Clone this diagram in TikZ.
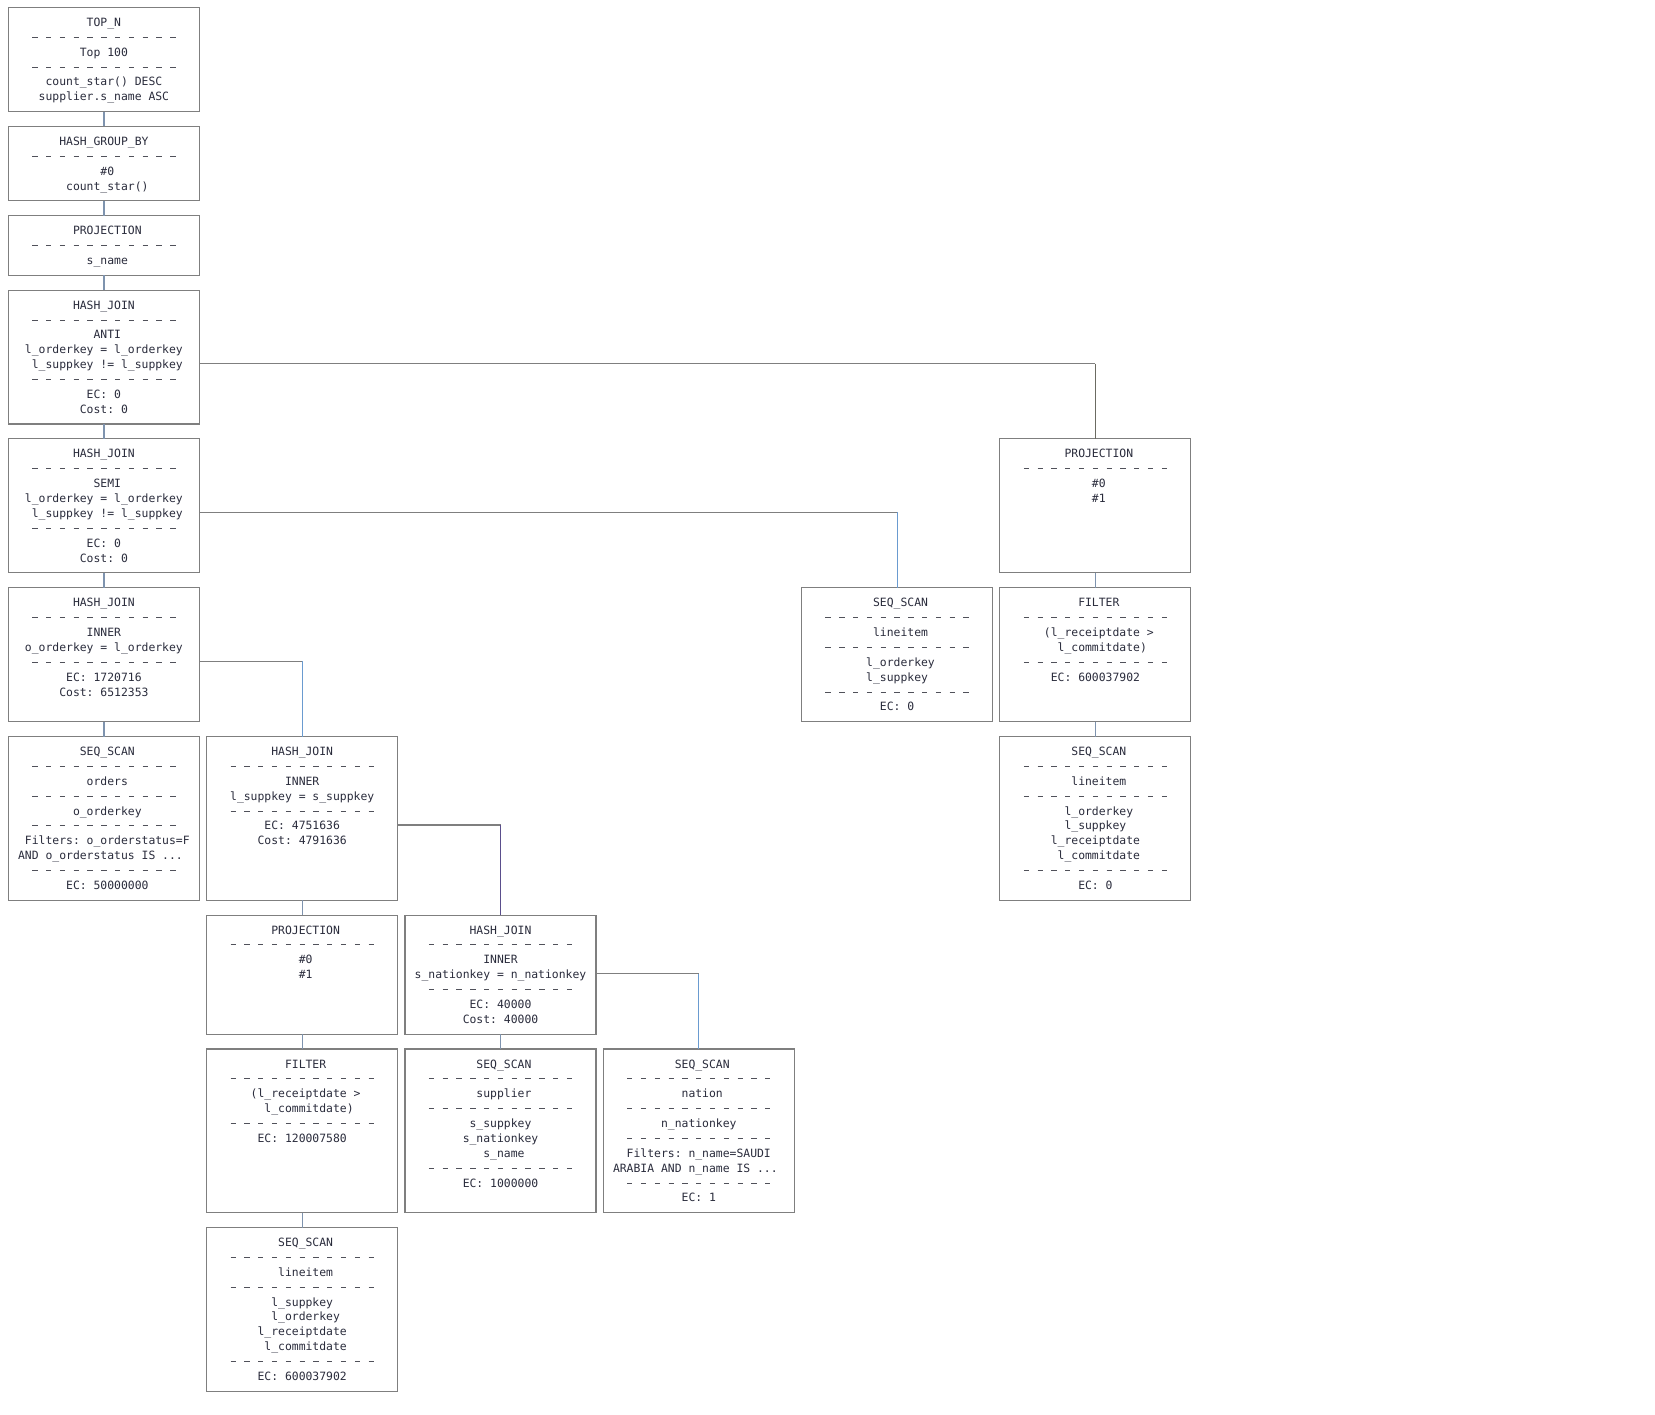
\documentclass[tikz,border=0pt]{standalone}
\usepackage{fontspec}
\setmonofont{DejaVu Sans Mono}
\definecolor{planline}{HTML}{7F7F7F}
\definecolor{planink}{HTML}{2A2C3C}
\definecolor{plandash}{HTML}{50515A}
\definecolor{planblue}{HTML}{6A9BD0}
\definecolor{planpurple}{HTML}{5A4E8C}
\definecolor{planstack}{HTML}{7E93AE}
\definecolor{plandark}{HTML}{6B6B62}

\newcommand\pad{\phantom{x}}
\newcommand\etc{.{}.{}.}
\def\sepmark{-}

% one operator box: name, centre x, top (rows), height (rows), lines
\newcommand\opbox[5]{%
  \node[opbox,minimum height=#4*14.88pt,anchor=north] (#1) at (#2,7.4+14.88*#3) {};
  \foreach \ltxt [count=\rowno from 0] in {#5}{%
    \ifx\ltxt\sepmark
      \draw[sepline] ([xshift=-71.65pt,yshift={-15pt-\rowno*14.88pt}]#1.north) -- ++(143.3,0);
    \else
      \node[optxt] at ([yshift={-19pt-\rowno*14.88pt}]#1.north) {\ltxt};
    \fi}}

\begin{document}
\begin{tikzpicture}[x=1pt,y=-1pt,
    opbox/.style={draw=planline,line width=1.1pt,minimum width=191pt,inner sep=0pt,outer sep=0pt},
    optxt/.style={font=\ttfamily\fontsize{11.4}{13}\selectfont,text=planink,inner sep=0pt,anchor=base},
    sepline/.style={draw=plandash,line width=0.95pt,dash pattern=on 5.3pt off 8.5pt},
    link/.style={draw=planline,line width=1.2pt},
    stack/.style={draw=planstack,line width=1.2pt}]
    \fill[white] (0,0) rectangle (1655,1414);

    \opbox{topn}{103.9}{0}{7}{TOP\_N,-,Top 100,-,count\_star() DESC,supplier.s\_name ASC}
    \opbox{groupby}{103.9}{8}{5}{HASH\_GROUP\_BY,-,\pad\#0,\pad count\_star()}
    \opbox{proj0}{103.9}{14}{4}{\pad PROJECTION,-,\pad s\_name}
    \opbox{anti}{103.9}{19}{9}{HASH\_JOIN,-,\pad ANTI,l\_orderkey = l\_orderkey,%
        \pad l\_suppkey != l\_suppkey,-,EC: 0,Cost: 0}
    \opbox{semi}{103.9}{29}{9}{HASH\_JOIN,-,\pad SEMI,l\_orderkey = l\_orderkey,%
        \pad l\_suppkey != l\_suppkey,-,EC: 0,Cost: 0}
    \opbox{rproj}{1095.4}{29}{9}{\pad PROJECTION,-,\pad\#0,\pad\#1}
    \opbox{inner}{103.9}{39}{9}{HASH\_JOIN,-,INNER,o\_orderkey = l\_orderkey,-,EC: 1720716,Cost: 6512353}
    \opbox{seqli}{897.1}{39}{9}{\pad SEQ\_SCAN,-,\pad lineitem,-,\pad l\_orderkey,l\_suppkey,-,EC: 0}
    \opbox{filt2}{1095.4}{39}{9}{\pad FILTER,-,\pad(l\_receiptdate >,\pad\pad l\_commitdate),-,EC: 600037902}
    \opbox{orders}{103.9}{49}{11}{\pad SEQ\_SCAN,-,\pad orders,-,\pad o\_orderkey,-,%
        \pad Filters: o\_orderstatus=F,AND o\_orderstatus IS \etc\pad,-,\pad EC: 50000000}
    \opbox{hj1}{302.2}{49}{11}{HASH\_JOIN,-,INNER,l\_suppkey = s\_suppkey,-,EC: 4751636,Cost: 4791636}
    \opbox{seqli2}{1095.4}{49}{11}{\pad SEQ\_SCAN,-,\pad lineitem,-,\pad l\_orderkey,l\_suppkey,%
        l\_receiptdate,\pad l\_commitdate,-,EC: 0}
    \opbox{proj1}{302.2}{61}{8}{\pad PROJECTION,-,\pad\#0,\pad\#1}
    \opbox{hj2}{500.5}{61}{8}{HASH\_JOIN,-,INNER,s\_nationkey = n\_nationkey,-,EC: 40000,Cost: 40000}
    \opbox{filt1}{302.2}{70}{11}{\pad FILTER,-,\pad(l\_receiptdate >,\pad\pad l\_commitdate),-,EC: 120007580}
    \opbox{supp}{500.5}{70}{11}{\pad SEQ\_SCAN,-,\pad supplier,-,s\_suppkey,s\_nationkey,\pad s\_name,-,EC: 1000000}
    \opbox{nation}{698.8}{70}{11}{\pad SEQ\_SCAN,-,\pad nation,-,n\_nationkey,-,Filters: n\_name=SAUDI,%
        ARABIA AND n\_name IS \etc\pad,-,EC: 1}
    \opbox{seqli3}{302.2}{82}{11}{\pad SEQ\_SCAN,-,\pad lineitem,-,l\_suppkey,\pad l\_orderkey,%
        l\_receiptdate,\pad l\_commitdate,-,EC: 600037902}

    % straight children
    \foreach \a/\b in {topn/groupby,groupby/proj0,proj0/anti,anti/semi,semi/inner,inner/orders,
        rproj/filt2,filt2/seqli2,hj1/proj1,proj1/filt1,filt1/seqli3,hj2/supp}
        \draw[stack] (\a.south) -- (\b.north);

    % right children
    \coordinate (antij) at ([yshift=-73.5pt]anti.north east);
    \coordinate (semij) at ([yshift=-73.5pt]semi.north east);
    \coordinate (innerj) at ([yshift=-73.5pt]inner.north east);
    \coordinate (hjaj) at ([yshift=-88.4pt]hj1.north east);
    \coordinate (hjbj) at ([yshift=-58.6pt]hj2.north east);
    \draw[link] (antij) -- (antij -| rproj.north);
    \draw[link,draw=plandark] (antij -| rproj.north) -- (rproj.north);
    \draw[link] (semij) -- (semij -| seqli.north);
    \draw[link,draw=planblue] (semij -| seqli.north) -- (seqli.north);
    \draw[link] (innerj) -- (innerj -| hj1.north);
    \draw[link,draw=planblue] (innerj -| hj1.north) -- (hj1.north);
    \draw[link] (hjaj) -- (hjaj -| hj2.north);
    \draw[link,draw=planpurple] (hjaj -| hj2.north) -- (hj2.north);
    \draw[link] (hjbj) -- (hjbj -| nation.north);
    \draw[link,draw=planblue] (hjbj -| nation.north) -- (nation.north);
\end{tikzpicture}
\end{document}
